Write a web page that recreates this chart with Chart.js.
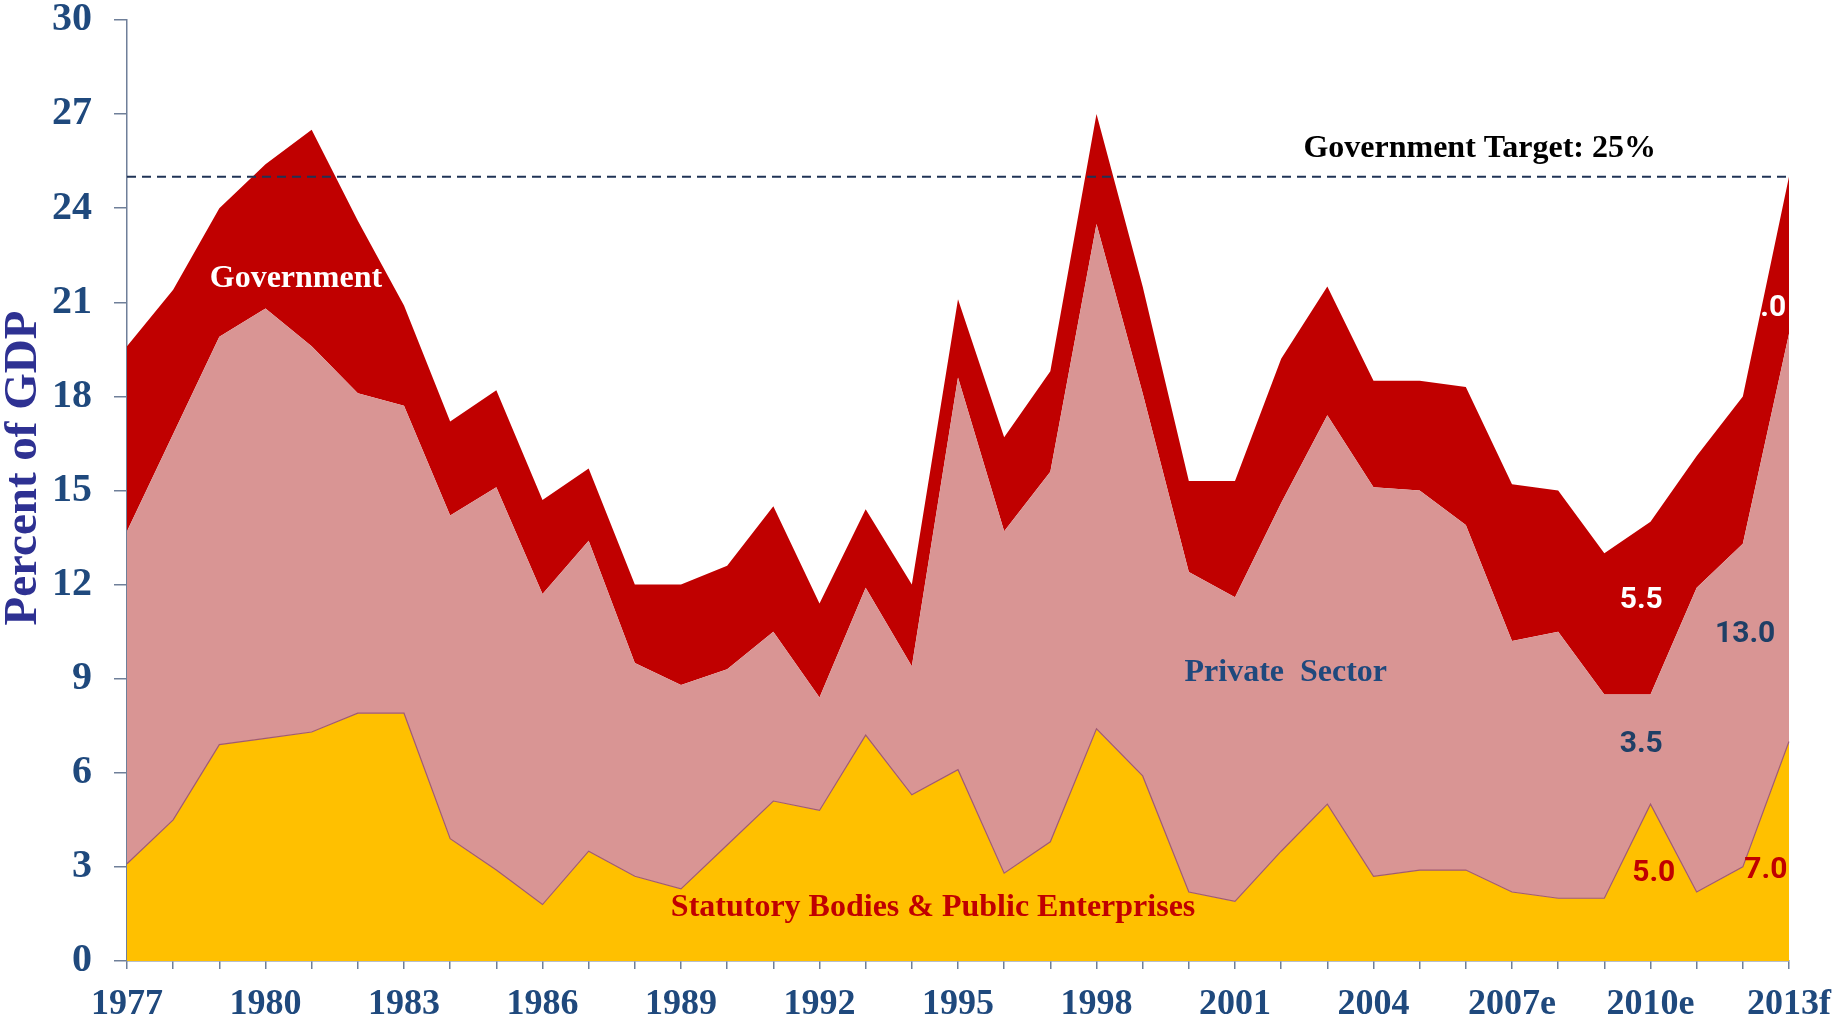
<!DOCTYPE html>
<html>
<head>
<meta charset="utf-8">
<script src="https://cdn.jsdelivr.net/npm/chart.js@4"></script>
<style>
  html, body { margin: 0; padding: 0; background: #fff; }
  #wrap { width: 1833px; height: 1022px; }
</style>
</head>
<body>
<div id="wrap"><canvas id="gdp-chart" width="1833" height="1022"></canvas></div>
<script>
// Investment as percent of GDP, 1977 - 2013f
const years = ['1977', '1978', '1979', '1980', '1981', '1982', '1983', '1984', '1985', '1986',
  '1987', '1988', '1989', '1990', '1991', '1992', '1993', '1994', '1995', '1996',
  '1997', '1998', '1999', '2000', '2001', '2002', '2003', '2004', '2005', '2006',
  '2007e', '2008e', '2009e', '2010e', '2011e', '2012e', '2013f'];

const statutory = [3.1, 4.5, 6.9, 7.1, 7.3, 7.9, 7.9, 3.9, 2.9, 1.8,
  3.5, 2.7, 2.3, 3.7, 5.1, 4.8, 7.2, 5.3, 6.1, 2.8,
  3.8, 7.4, 5.9, 2.2, 1.9, 3.5, 5.0, 2.7, 2.9, 2.9,
  2.2, 2.0, 2.0, 5.0, 2.2, 3.0, 7.0];

const privateSector = [10.6, 12.3, 13.0, 13.7, 12.3, 10.2, 9.8, 10.3, 12.2, 9.9,
  9.9, 6.8, 6.5, 5.6, 5.4, 3.6, 4.7, 4.1, 12.5, 10.9,
  11.8, 16.1, 12.2, 10.2, 9.7, 11.1, 12.4, 12.4, 12.1, 11.0,
  8.0, 8.5, 6.5, 3.5, 9.7, 10.3, 13.0];

const government = [5.9, 4.6, 4.1, 4.6, 6.9, 5.5, 3.2, 3.0, 3.1, 3.0,
  2.3, 2.5, 3.2, 3.3, 4.0, 3.0, 2.5, 2.6, 2.5, 3.0,
  3.2, 3.5, 3.4, 2.9, 3.7, 4.6, 4.1, 3.4, 3.5, 4.4,
  5.0, 4.5, 4.5, 5.5, 4.2, 4.7, 5.0];

const target = 25;
const yTicks = [0, 3, 6, 9, 12, 15, 18, 21, 24, 27, 30];

const tickColor = '#1F497D';
const axisColor = '#6F7F99';
const serif = '"Liberation Serif", "Times New Roman", serif';
const sans = 'Roboto, "Noto Sans", sans-serif';

// text annotations: [x index, y value, text, font, color]
const notes = [
  [3.66, 21.75, 'Government', 'bold 32px ' + serif, '#FFFFFF'],
  [25.1, 9.2, 'Private  Sector', 'bold 32px ' + serif, '#1F497D'],
  [17.46, 1.7, 'Statutory Bodies & Public Enterprises', 'bold 32px ' + serif, '#C00000'],
  [29.3, 25.9, 'Government Target: 25%', 'bold 32px ' + serif, '#000000'],
  [32.8, 11.5, '5.5', 'bold 30px ' + sans, '#FFFFFF'],
  [35.05, 10.4, '13.0', 'bold 30px ' + sans, '#1F3F66'],
  [32.8, 6.9, '3.5', 'bold 30px ' + sans, '#1F3F66'],
  [33.07, 2.8, '5.0', 'bold 30px ' + sans, '#C00000'],
  [35.5, 2.9, '7.0', 'bold 30px ' + sans, '#C00000'],
  [35.47, 20.8, '5.0', 'bold 30px ' + sans, '#FFFFFF']
];

const overlay = {
  id: 'overlay',
  afterDatasetsDraw(chart) {
    const { ctx, scales: { x, y }, chartArea } = chart;
    const idxPx = i => x.getPixelForValue(0) + i * (x.getPixelForValue(1) - x.getPixelForValue(0));

    // target line
    ctx.save();
    ctx.strokeStyle = '#1F3356';
    ctx.lineWidth = 2;
    ctx.setLineDash([9, 6]);
    ctx.beginPath();
    ctx.moveTo(chartArea.left, y.getPixelForValue(target));
    ctx.lineTo(x.getPixelForValue(years.length - 1), y.getPixelForValue(target));
    ctx.stroke();
    ctx.restore();

    ctx.save();
    ctx.textAlign = 'center';
    ctx.textBaseline = 'middle';
    notes.forEach(([i, v, text, font, color]) => {
      ctx.font = font;
      ctx.fillStyle = color;
      ctx.fillText(text, idxPx(i), y.getPixelForValue(v));
    });
    ctx.restore();

    // y axis title
    ctx.save();
    ctx.translate(24, 468);
    ctx.rotate(-Math.PI / 2);
    ctx.font = 'bold 47px ' + serif;
    ctx.fillStyle = '#2E3192';
    ctx.textAlign = 'center';
    ctx.textBaseline = 'middle';
    ctx.fillText('Percent of GDP', 0, 0);
    ctx.restore();
  }
};

new Chart(document.getElementById('gdp-chart'), {
  type: 'line',
  data: {
    labels: years,
    datasets: [
      {
        label: 'Statutory Bodies & Public Enterprises',
        data: statutory,
        backgroundColor: '#FFC000',
        borderColor: '#A05A74',
        borderWidth: 1.2,
        fill: 'origin',
        order: 1
      },
      {
        label: 'Private Sector',
        data: privateSector,
        backgroundColor: '#D99594',
        borderColor: '#D99594',
        borderWidth: 0,
        fill: '-1',
        order: 2
      },
      {
        label: 'Government',
        data: government,
        backgroundColor: '#C00000',
        borderColor: '#C00000',
        borderWidth: 0,
        fill: '-1',
        order: 3
      }
    ]
  },
  options: {
    responsive: false,
    animation: false,
    layout: { padding: { top: 20, right: 44, left: 0, bottom: 0 } },
    elements: { point: { radius: 0 }, line: { tension: 0 } },
    plugins: { legend: { display: false }, tooltip: { enabled: false } },
    scales: {
      x: {
        offset: false,
        afterFit: s => {
          s.height = 61;
          s.paddingLeft = 0;
          s.paddingRight = 0;
        },
        grid: {
          drawOnChartArea: false,
          tickLength: 8,
          color: axisColor,
          lineWidth: 1.5
        },
        border: { color: axisColor, width: 1.5 },
        ticks: {
          autoSkip: false,
          maxRotation: 0,
          padding: 14,
          color: tickColor,
          font: { family: serif, weight: 'bold', size: 36 },
          callback: (v, i) => (i % 3 === 0 ? years[i] : '')
        }
      },
      y: {
        stacked: true,
        min: 0,
        max: 30,
        afterFit: s => {
          s.width = 127;
          s.paddingTop = 0;
          s.paddingBottom = 0;
        },
        afterBuildTicks: s => { s.ticks = yTicks.map(value => ({ value })); },
        grid: {
          drawOnChartArea: false,
          tickLength: 13,
          color: axisColor,
          lineWidth: 1.5
        },
        border: { color: axisColor, width: 1.5 },
        ticks: {
          padding: 22,
          color: tickColor,
          font: { family: serif, weight: 'bold', size: 40 }
        }
      }
    }
  },
  plugins: [overlay]
});
</script>
</body>
</html>
